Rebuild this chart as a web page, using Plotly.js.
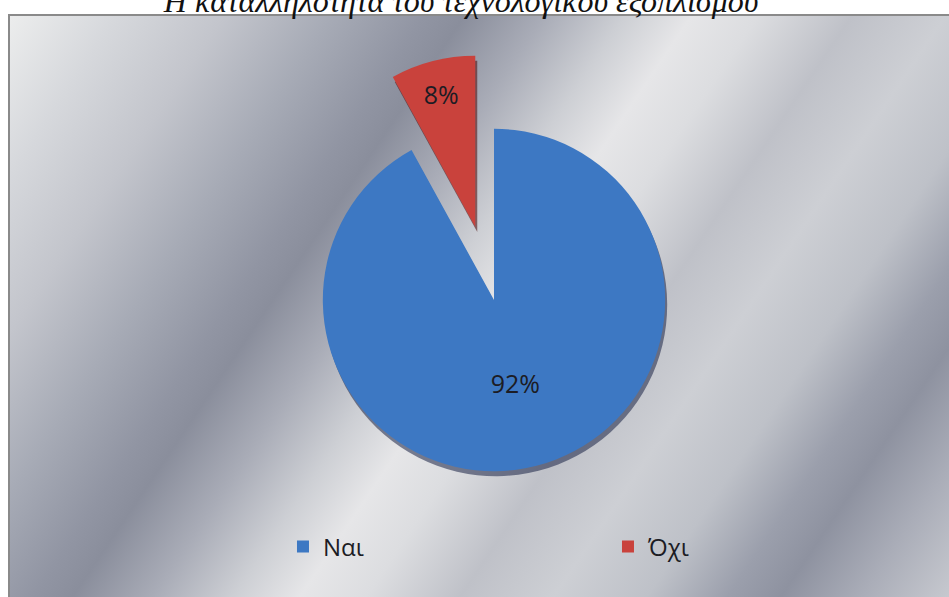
<!DOCTYPE html>
<html>
<head>
<meta charset="utf-8">
<script src="https://cdn.plot.ly/plotly-3.0.1.min.js"></script>
<style>
  html, body { margin: 0; padding: 0; background: #ffffff; }
  #wrap { position: relative; width: 949px; height: 597px; overflow: hidden; }
  #frame {
    position: absolute; left: 8px; top: 14px; width: 945px; height: 590px;
    box-sizing: border-box; border: 2px solid #8a8a8a;
    background: linear-gradient(124deg,
      #eceded 0%, #d6d8dc 8%, #c3c5cc 16%, #a7abb6 24%, #9195a3 31%, #8a8e9c 34%,
      #a9acb7 40%, #cdcfd4 46%, #e6e6e8 51%, #dcdde0 56%, #bfc1c8 63%,
      #cdcfd4 70%, #bec1c8 77%, #9b9fac 83%, #8e92a0 87%, #aaadb8 93%, #c8cad0 100%);
  }
  #chart { position: absolute; left: 0; top: 0; width: 949px; height: 597px; }
</style>
</head>
<body>
<div id="wrap">
  <div id="frame"></div>
  <div id="chart"></div>
</div>
<script>
const titleText = "Η καταλληλότητα του τεχνολογικού εξοπλισμού";
const labels = ["Ναι", "Όχι"];
const values = [92, 8];
const sliceColors = ["#3d78c3", "#c9423c"];
const pulls = [0, 0.44];

const W = 949, H = 597;
const domX = [0.1834, 0.8577];
const domY = [0.0846, 0.9104];

const shadow = {
  type: "pie",
  labels: labels,
  values: values,
  sort: false,
  direction: "clockwise",
  rotation: 0,
  pull: pulls,
  marker: { colors: ["rgba(25,35,70,0.55)", "rgba(80,20,20,0.6)"], line: { width: 0 } },
  textinfo: "none",
  hoverinfo: "skip",
  showlegend: false,
  domain: { x: [domX[0] + 2 / W, domX[1] + 2 / W], y: [domY[0] - 5 / H, domY[1] - 5 / H] }
};

const main = {
  type: "pie",
  labels: labels,
  values: values,
  sort: false,
  direction: "clockwise",
  rotation: 0,
  pull: pulls,
  marker: { colors: sliceColors, line: { width: 0 } },
  textinfo: "percent",
  texttemplate: "%{percent:.0%}",
  textposition: "inside",
  insidetextorientation: "horizontal",
  textfont: { family: "Open Sans, Noto Sans, sans-serif", size: 25, color: "#1c1c24" },
  hoverinfo: "label+percent",
  domain: { x: domX, y: domY }
};

const layout = {
  width: W, height: H,
  margin: { l: 0, r: 0, t: 0, b: 0, autoexpand: false },
  paper_bgcolor: "rgba(0,0,0,0)",
  plot_bgcolor: "rgba(0,0,0,0)",
  title: {
    text: titleText,
    font: { family: "Liberation Serif, DejaVu Serif, serif", size: 32, color: "#111111", style: "italic" },
    x: 0.4858, xanchor: "center", xref: "container",
    y: 0.998, yanchor: "middle", yref: "container"
  },
  showlegend: true,
  legend: {
    orientation: "h",
    x: 0.2982, xanchor: "left",
    y: 0.084, yanchor: "middle",
    entrywidth: 280,
    bgcolor: "rgba(0,0,0,0)",
    font: { family: "Open Sans, Noto Sans, sans-serif", size: 24, color: "#1c1c24" },
    traceorder: "normal"
  }
};

Plotly.newPlot("chart", [shadow, main], layout, { displayModeBar: false, staticPlot: true });
</script>
</body>
</html>
